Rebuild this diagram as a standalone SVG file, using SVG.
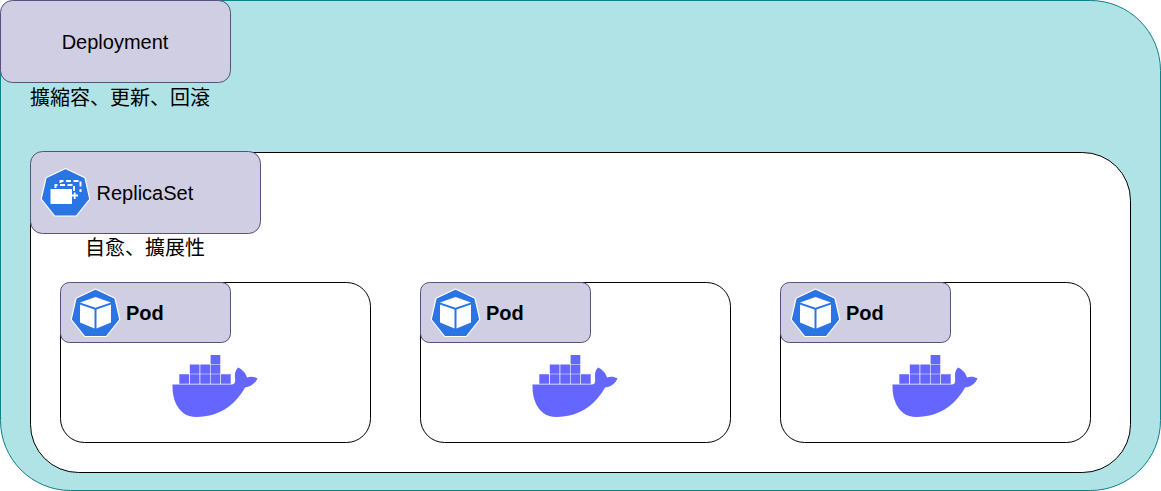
<svg xmlns="http://www.w3.org/2000/svg" xmlns:xlink="http://www.w3.org/1999/xlink" width="1161" height="491" viewBox="0 0 1161 491">
<style>
.lab{fill:#d0cee2;stroke:#56517e;stroke-width:1}
.box{fill:#fff;stroke:#000;stroke-width:1}
text{font-family:"Liberation Sans","Noto Sans CJK JP",sans-serif;font-size:20px;fill:#000}
.hep{fill:#2a75e3;stroke:#fff;stroke-width:1.2;stroke-linejoin:round}
.w{fill:#6565ff}
</style>
<defs>
<g id="whale">
<path class="w" d="M172.500 384.500H232C235 384.300 235.500 382 235 378C234.500 373.500 235.500 370 238 367.500C242.500 369.500 246 373.500 247 377.500C250.500 376 254 376.500 257.500 378.500C255 384 250 387 245 387.500C237 402 222 417 196 417C180 417 172 402 172.500 384.500Z"/>
<path class="w" d="M179.300 374.300h9.700v9.400h-9.700zM189.800 374.300h9.700v9.400h-9.700zM200.300 374.300h9.700v9.400h-9.700zM210.600 374.300h9.700v9.400h-9.700zM221 374.300h9.700v9.400h-9.700zM189.800 364.500h9.700v9.200h-9.700zM200.300 364.500h9.700v9.200h-9.700zM210.600 364.500h9.700v9.200h-9.700zM210.600 355h9.700v9h-9.700z"/>
</g>
<g id="podicon">
<polygon class="hep" points="95.500,289 115,298.300 119.800,319.500 106.300,336.500 84.700,336.500 71.200,319.500 76,298.300"/>
<path fill="#fff" d="M95.500 297L111 302.500L95.500 307.800L80 302.500Z"/>
<path fill="#fff" d="M80 304.500L94.500 309.500V328.500L80 322.500Z"/>
<path fill="#fff" d="M111 304.500L96.500 309.500V328.500L111 322.500Z"/>
</g>
</defs>
<g id="connectors"/>
<g id="deployment-frame"><rect x="0.500" y="0.500" width="1160" height="490" rx="70" fill="#b0e3e6" stroke="#0e8088"/></g>
<g id="replicaset-frame"><rect class="box" x="30.500" y="152.500" width="1100" height="320" rx="48"/></g>
<g id="deployment">
<rect class="lab" x="0.500" y="0.500" width="230" height="82" rx="12"/>
<text x="115" y="49" text-anchor="middle">Deployment</text>
<text x="120" y="104.500" text-anchor="middle">擴縮容、更新、回滾</text>
</g>
<g id="replicaset">
<rect class="lab" x="30.500" y="151.500" width="230" height="82" rx="12"/>
<polygon class="hep" points="65.500,168.500 85,177.800 89.800,199 76.300,216 54.700,216 41.200,199 46,177.800"/>
<rect x="50.500" y="189" width="21.500" height="15" fill="#fff"/>
<path fill="none" stroke="#fff" stroke-width="2" stroke-dasharray="5 2.500" d="M55.500 188V185H74V193"/>
<path fill="none" stroke="#fff" stroke-width="2" stroke-dasharray="5 2.500" d="M60.500 183V181H80.500V192"/>
<path fill="none" stroke="#fff" stroke-width="1.800" d="M71.500 195.500H78M74.700 192.500V199"/>
<text x="96.500" y="200">ReplicaSet</text>
<text x="145" y="255" text-anchor="middle">自愈、擴展性</text>
</g>
<g id="pod1">
<rect class="box" x="60.500" y="282.500" width="310" height="160" rx="24"/>
<rect class="lab" x="60.500" y="282.500" width="170" height="60" rx="9"/>
<use xlink:href="#podicon" href="#podicon"/>
<text x="126" y="320" style="font-weight:bold">Pod</text>
<use xlink:href="#whale" href="#whale"/>
</g>
<g id="pod2">
<rect class="box" x="420.500" y="282.500" width="310" height="160" rx="24"/>
<rect class="lab" x="420.500" y="282.500" width="170" height="60" rx="9"/>
<use xlink:href="#podicon" href="#podicon" x="360"/>
<text x="486" y="320" style="font-weight:bold">Pod</text>
<use xlink:href="#whale" href="#whale" x="360"/>
</g>
<g id="pod3">
<rect class="box" x="780.500" y="282.500" width="310" height="160" rx="24"/>
<rect class="lab" x="780.500" y="282.500" width="170" height="60" rx="9"/>
<use xlink:href="#podicon" href="#podicon" x="720"/>
<text x="846" y="320" style="font-weight:bold">Pod</text>
<use xlink:href="#whale" href="#whale" x="720"/>
</g>
</svg>
